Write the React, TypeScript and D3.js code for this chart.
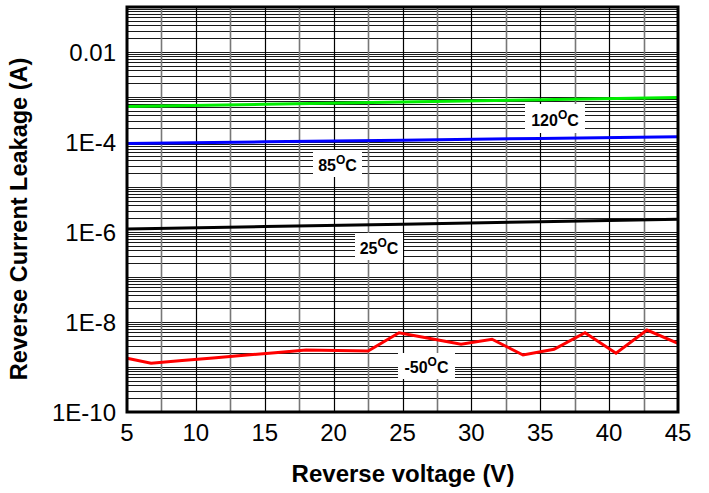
import React, { useEffect, useRef } from 'react';
import * as d3 from 'd3';

// Reverse voltage samples (V)
const voltsRed = [5, 6.75, 9, 11.25, 13.5, 15.75, 18, 20.25, 22.5, 24.75, 27, 29.25, 31.5, 33.75, 36, 38.25, 40.5, 42.75, 45];
const leakMinus50 = [1.56e-9, 1.21e-9, 1.39e-9, 1.58e-9, 1.82e-9, 2.08e-9, 2.39e-9, 2.33e-9, 2.27e-9, 5.78e-9, 4.3e-9, 3.19e-9, 4.13e-9, 1.85e-9, 2.47e-9, 5.78e-9, 2.02e-9, 6.64e-9, 3.36e-9];

const volts = [5, 15, 25, 35, 45];
const leak25 = [1.17e-6, 1.32e-6, 1.49e-6, 1.69e-6, 1.91e-6];
const leak85 = [9.3e-5, 1.01e-4, 1.1e-4, 1.2e-4, 1.31e-4];
const leak120 = [6.15e-4, 6.87e-4, 7.74e-4, 8.73e-4, 9.8e-4];

const xTicks = [5, 10, 15, 20, 25, 30, 35, 40, 45];
const yTicks = [1e-10, 1e-8, 1e-6, 1e-4, 1e-2];
const yTickLabels = ['1E-10', '1E-8', '1E-6', '1E-4', '0.01'];

interface Series {
  name: string;
  color: string;
  x: number[];
  y: number[];
}

const series: Series[] = [
  { name: '120', color: '#00ee00', x: volts, y: leak120 },
  { name: '85', color: '#0000ff', x: volts, y: leak85 },
  { name: '25', color: '#000000', x: volts, y: leak25 },
  { name: '-50', color: '#ff0000', x: voltsRed, y: leakMinus50 },
];

// label boxes: [left, top, width, height] in px
const labelBoxes: { text: string; box: [number, number, number, number] }[] = [
  { text: '120', box: [525, 104, 60, 29] },
  { text: '85', box: [313, 150, 49, 27] },
  { text: '25', box: [355, 233, 48, 27] },
  { text: '-50', box: [398, 353, 57, 26] },
];

const W = 709;
const H = 493;
const margin = { left: 127, right: 31, top: 7, bottom: 81 };
const FONT = 'Liberation Sans, Arial, sans-serif';

const App: React.FC = () => {
  const svgRef = useRef<SVGSVGElement>(null);

  useEffect(() => {
    if (!svgRef.current) return;
    const svg = d3.select(svgRef.current);
    svg.selectAll('*').remove();

    const x = d3.scaleLinear().domain([5, 45]).range([margin.left, W - margin.right]);
    const y = d3.scaleLog().domain([1e-10, 0.1]).range([H - margin.bottom, margin.top]);

    svg.append('rect').attr('width', W).attr('height', H).attr('fill', '#fff');

    const grid = svg.append('g');

    // horizontal log grid: 1..9 per decade
    const hLines: number[] = [];
    for (let e = -10; e < -1; e++) {
      for (let m = 1; m <= 9; m++) hLines.push(m * Math.pow(10, e));
    }
    grid.selectAll('line.h')
      .data(hLines)
      .enter()
      .append('line')
      .attr('x1', x(5))
      .attr('x2', x(45))
      .attr('y1', d => Math.round(y(d)) + 0.5)
      .attr('y2', d => Math.round(y(d)) + 0.5)
      .attr('stroke', '#1a1a1a')
      .attr('stroke-width', 1);

    // vertical grid every 2.5 V
    const vLines = d3.range(7.5, 45, 2.5);
    grid.selectAll('line.v')
      .data(vLines)
      .enter()
      .append('line')
      .attr('x1', d => Math.round(x(d)) + 0.5)
      .attr('x2', d => Math.round(x(d)) + 0.5)
      .attr('y1', y(0.1))
      .attr('y2', y(1e-10))
      .attr('stroke', d => (d % 5 === 0 ? '#000' : '#777'))
      .attr('stroke-width', d => (d % 5 === 0 ? 1.2 : 1.6));

    // curves
    const line = d3.line<[number, number]>()
      .x(d => x(d[0]))
      .y(d => y(d[1]));

    series.forEach(s => {
      svg.append('path')
        .datum(s.x.map((v, i) => [v, s.y[i]] as [number, number]))
        .attr('d', line)
        .attr('fill', 'none')
        .attr('stroke', s.color)
        .attr('stroke-width', 3)
        .attr('stroke-linejoin', 'miter');
    });

    // temperature labels
    labelBoxes.forEach(l => {
      const [bx, by, bw, bh] = l.box;
      svg.append('rect')
        .attr('x', bx).attr('y', by).attr('width', bw).attr('height', bh)
        .attr('fill', '#fff');
      const t = svg.append('text')
        .attr('x', bx + bw / 2)
        .attr('y', by + bh / 2 + 7)
        .attr('text-anchor', 'middle')
        .attr('font-family', FONT)
        .attr('font-weight', 'bold')
        .attr('font-size', 16)
        .attr('fill', '#000');
      t.append('tspan').text(l.text);
      t.append('tspan').attr('font-size', 12).attr('dy', -7).text('O');
      t.append('tspan').attr('dy', 7).text('C');
    });

    // frame
    svg.append('rect')
      .attr('x', x(5))
      .attr('y', y(0.1))
      .attr('width', x(45) - x(5))
      .attr('height', y(1e-10) - y(0.1))
      .attr('fill', 'none')
      .attr('stroke', '#000')
      .attr('stroke-width', 3);

    // tick labels
    svg.selectAll('text.xt')
      .data(xTicks)
      .enter()
      .append('text')
      .attr('x', d => x(d))
      .attr('y', 441)
      .attr('text-anchor', 'middle')
      .attr('font-family', FONT)
      .attr('font-size', 24)
      .attr('fill', '#000')
      .text(d => d);

    svg.selectAll('text.yt')
      .data(yTicks)
      .enter()
      .append('text')
      .attr('x', 116)
      .attr('y', d => y(d) + 8.5)
      .attr('text-anchor', 'end')
      .attr('font-family', FONT)
      .attr('font-size', 24)
      .attr('fill', '#000')
      .text((d, i) => yTickLabels[i]);

    // axis titles
    svg.append('text')
      .attr('x', 403)
      .attr('y', 482)
      .attr('text-anchor', 'middle')
      .attr('font-family', FONT)
      .attr('font-weight', 'bold')
      .attr('font-size', 24)
      .text('Reverse voltage (V)');

    svg.append('text')
      .attr('transform', `translate(27,219) rotate(-90)`)
      .attr('text-anchor', 'middle')
      .attr('font-family', FONT)
      .attr('font-weight', 'bold')
      .attr('font-size', 23.5)
      .text('Reverse Current Leakage (A)');
  }, []);

  return (
    <div style={{ position: 'fixed', left: 0, top: 0 }}>
      <svg ref={svgRef} width={W} height={H} style={{ display: 'block' }} />
    </div>
  );
};

export default App;
